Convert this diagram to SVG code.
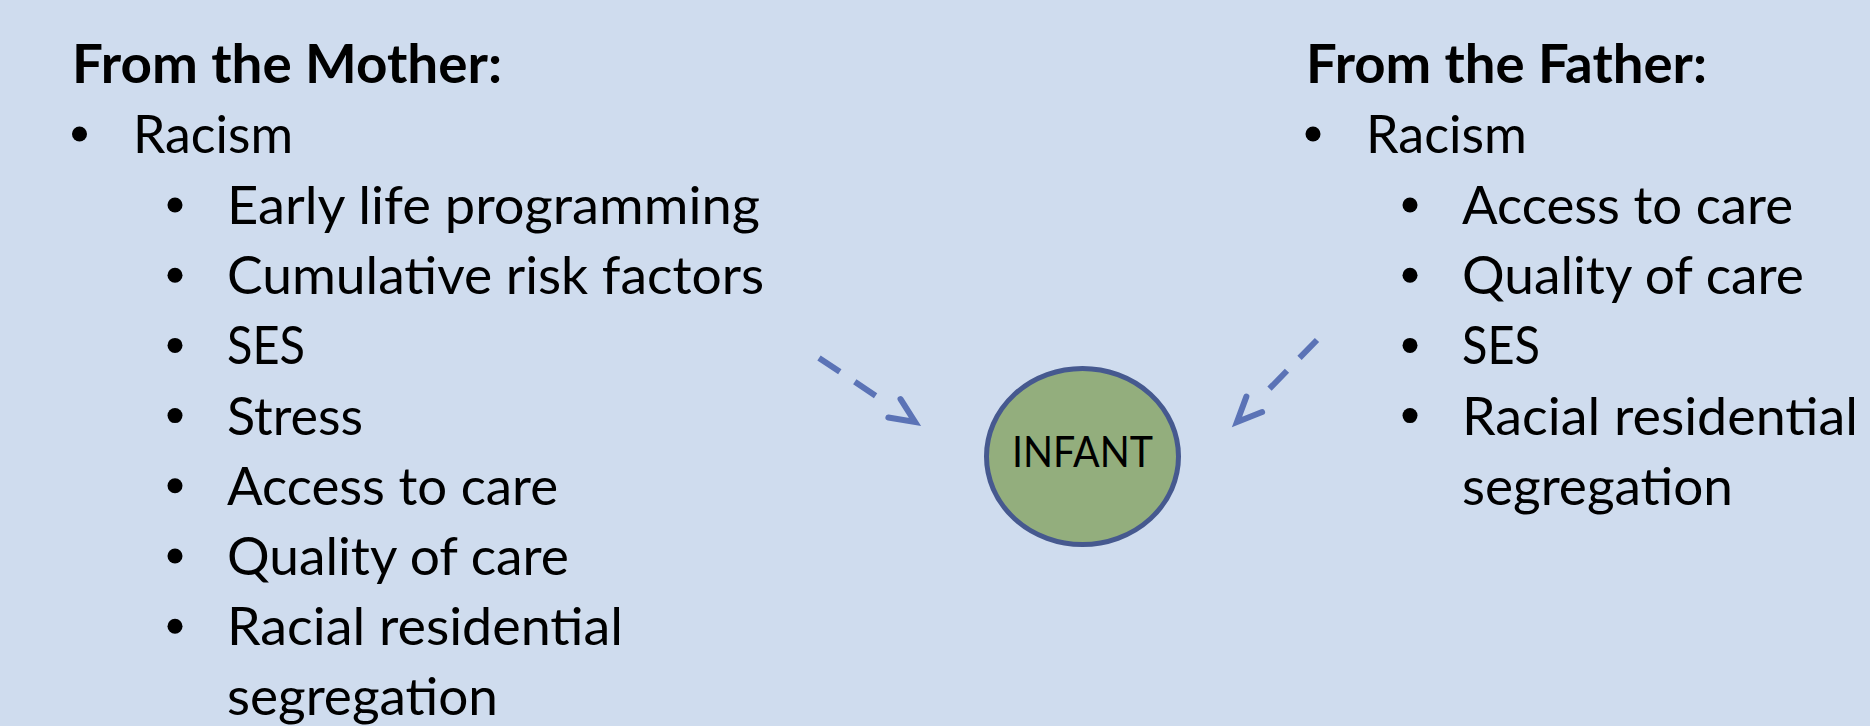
<svg xmlns="http://www.w3.org/2000/svg" width="1870" height="726" viewBox="0 0 1870 726">
  <defs>
    <style>
      .head { font-family: Lato, "Open Sans", "Liberation Sans", sans-serif; font-weight: 700; font-size: 53px; fill: #000; }
      .item { font-family: Lato, "Open Sans", "Liberation Sans", sans-serif; font-weight: 400; font-size: 52px; fill: #000; }
      .label { font-family: Lato, "Open Sans", "Liberation Sans", sans-serif; font-weight: 400; font-size: 42px; fill: #000; }
      .dot { fill: #000; }
      .conn { fill: none; stroke: #5B73B6; stroke-width: 6; stroke-dasharray: 25 18 25 200; }
      .node-shape { fill: #93AE7D; stroke: #46598F; stroke-width: 5; }
    </style>
    <marker id="openArrow" markerUnits="userSpaceOnUse" viewBox="-32 -18 40 36" refX="0" refY="0" markerWidth="40" markerHeight="36" orient="auto">
      <path d="M -24.7 -11 L 0 0 L -24.7 11" fill="none" stroke="#5B73B6" stroke-width="6" stroke-linecap="round" stroke-linejoin="miter"/>
    </marker>
  </defs>

  <rect x="0" y="0" width="1870" height="726" fill="#CFDCEE"/>

  <g id="mother-factors">
    <text class="head" x="72" y="83" textLength="430" lengthAdjust="spacingAndGlyphs">From the Mother:</text>
    <circle class="dot" cx="79.5" cy="134" r="7.5"/>
    <text class="item" x="133" y="153" textLength="160" lengthAdjust="spacingAndGlyphs">Racism</text>
    <circle class="dot" cx="175" cy="205" r="7.5"/>
    <text class="item" x="227" y="224" textLength="533" lengthAdjust="spacingAndGlyphs">Early life programming</text>
    <circle class="dot" cx="175" cy="275.2" r="7.5"/>
    <text class="item" x="227" y="294.2" textLength="537" lengthAdjust="spacingAndGlyphs">Cumulative risk factors</text>
    <circle class="dot" cx="175" cy="345.4" r="7.5"/>
    <text class="item" x="227" y="364.4" textLength="78" lengthAdjust="spacingAndGlyphs">SES</text>
    <circle class="dot" cx="175" cy="415.6" r="7.5"/>
    <text class="item" x="227" y="434.6" textLength="136" lengthAdjust="spacingAndGlyphs">Stress</text>
    <circle class="dot" cx="175" cy="485.8" r="7.5"/>
    <text class="item" x="227" y="504.8" textLength="331" lengthAdjust="spacingAndGlyphs">Access to care</text>
    <circle class="dot" cx="175" cy="556" r="7.5"/>
    <text class="item" x="227" y="575" textLength="342" lengthAdjust="spacingAndGlyphs">Quality of care</text>
    <circle class="dot" cx="175" cy="626.2" r="7.5"/>
    <text class="item" x="227" y="645.2" textLength="396" lengthAdjust="spacingAndGlyphs">Racial residential</text>
    <text class="item" x="227" y="715.4" textLength="271" lengthAdjust="spacingAndGlyphs">segregation</text>
  </g>

  <g id="father-factors">
    <text class="head" x="1306" y="83" textLength="401" lengthAdjust="spacingAndGlyphs">From the Father:</text>
    <circle class="dot" cx="1313" cy="134" r="7.5"/>
    <text class="item" x="1366" y="153" textLength="161" lengthAdjust="spacingAndGlyphs">Racism</text>
    <circle class="dot" cx="1410" cy="205" r="7.5"/>
    <text class="item" x="1462" y="224" textLength="331" lengthAdjust="spacingAndGlyphs">Access to care</text>
    <circle class="dot" cx="1410" cy="275.2" r="7.5"/>
    <text class="item" x="1462" y="294.2" textLength="342" lengthAdjust="spacingAndGlyphs">Quality of care</text>
    <circle class="dot" cx="1410" cy="345.4" r="7.5"/>
    <text class="item" x="1462" y="364.4" textLength="78" lengthAdjust="spacingAndGlyphs">SES</text>
    <circle class="dot" cx="1410" cy="415.6" r="7.5"/>
    <text class="item" x="1462" y="434.6" textLength="396" lengthAdjust="spacingAndGlyphs">Racial residential</text>
    <text class="item" x="1462" y="504.8" textLength="271" lengthAdjust="spacingAndGlyphs">segregation</text>
  </g>

  <g id="infant">
    <ellipse class="node-shape" cx="1082.5" cy="456.5" rx="96" ry="88"/>
    <text class="label" x="1082.5" y="467" text-anchor="middle" textLength="141" lengthAdjust="spacingAndGlyphs">INFANT</text>
  </g>

  <g id="connectors">
    <path class="conn" d="M 819 358 L 915 422" marker-end="url(#openArrow)"/>
    <path class="conn" d="M 1317 340 L 1237 422" marker-end="url(#openArrow)"/>
  </g>
</svg>
